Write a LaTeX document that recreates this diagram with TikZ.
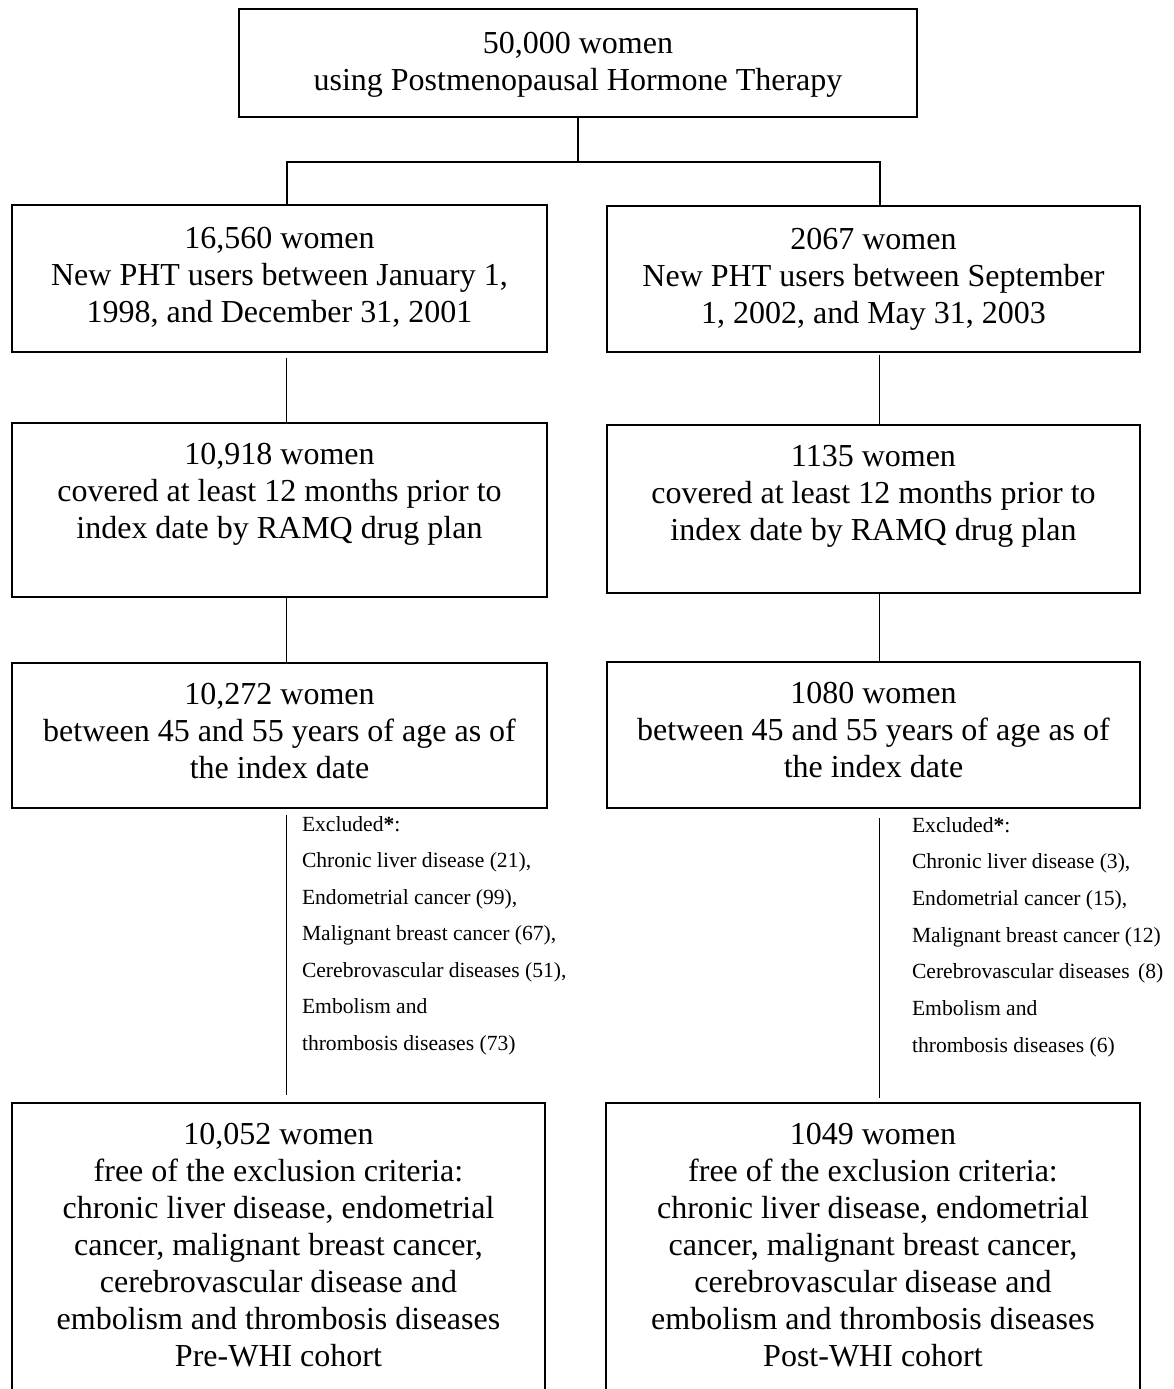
\documentclass[tikz,border=0pt]{standalone}
\usepackage{fontspec}
\setmainfont{Liberation Serif}
\usepackage{tikz}
\tikzstyle{stage}=[draw, rectangle, anchor=north, line width=1pt, inner sep=0pt, outer sep=0pt, font=\fontsize{16}{18.5}\selectfont]
\tikzstyle{link}=[line width=0.8pt]
\tikzstyle{note}=[anchor=north west, align=left, inner sep=0pt, outer sep=0pt]
\newcommand{\boxtext}[4][20.5pt]{\parbox[c][#3][t]{#2}{\centering\rule{0pt}{#1}#4}}

\begin{document}
\begin{tikzpicture}[x=0.5pt, y=-0.5pt]
      \useasboundingbox (0,0) rectangle (1174,1389);
      \clip (0,0) rectangle (1174,1389);
      %%%%%%%%%%%% all users
      \node(top) [stage] at (578, 9){\boxtext[22pt]{339pt}{54pt}{50,000 women\\using Postmenopausal Hormone Therapy}};
      \coordinate (fork) at (578, 162);
      %%%%%%%%%%%% Pre-WHI
      \node(l1) [stage] at (279.5, 205){\boxtext[21.5pt]{267.5pt}{73.5pt}{16,560 women\\New PHT users between January 1,\\1998, and December 31, 2001}};
      \node(l2) [stage] at (279.5, 423){\boxtext{267.5pt}{87pt}{10,918 women\\covered at least 12 months prior to\\index date by RAMQ drug plan}};
      \node(l3) [stage] at (279.5, 663){\boxtext{267.5pt}{72.5pt}{10,272 women\\between 45 and 55 years of age as of\\the index date}};
      \node(exl) [note, font=\fontsize{10.8}{18.25}\selectfont] at (302, 816){Excluded\textbf{*}:\\Chronic liver disease (21),\\Endometrial cancer (99),\\Malignant breast cancer (67),\\Cerebrovascular diseases (51),\\Embolism and\\thrombosis diseases (73)};
      \node(l4) [stage] at (278.5, 1103){\boxtext{266.5pt}{160pt}{10,052 women\\free of the exclusion criteria:\\chronic liver disease, endometrial\\cancer, malignant breast cancer,\\cerebrovascular disease and\\embolism and thrombosis diseases\\Pre-WHI cohort}};
      %%%%%%%%%%%% Post-WHI
      \node(r1) [stage] at (873.5, 206){\boxtext[21.5pt]{266.5pt}{73pt}{2067 women\\New PHT users between September\\1, 2002, and May 31, 2003}};
      \node(r2) [stage] at (873.5, 425){\boxtext{266.5pt}{84pt}{1135 women\\covered at least 12 months prior to\\index date by RAMQ drug plan}};
      \node(r3) [stage] at (873.5, 662){\boxtext{266.5pt}{73pt}{1080 women\\between 45 and 55 years of age as of\\the index date}};
      \node(exr) [note, font=\fontsize{10.8}{18.35}\selectfont] at (912, 817){Excluded\textbf{*}:\\Chronic liver disease (3),\\Endometrial cancer (15),\\Malignant breast cancer (12)\\Cerebrovascular diseases\hspace{1.5pt} (8)\\Embolism and\\thrombosis diseases (6)};
      \node(r4) [stage] at (873, 1103){\boxtext{267pt}{160pt}{1049 women\\free of the exclusion criteria:\\chronic liver disease, endometrial\\cancer, malignant breast cancer,\\cerebrovascular disease and\\embolism and thrombosis diseases\\Post-WHI cohort}};
      %%%%%%%%%%%% links
      \draw[link] (top) to (fork);
      \draw[link] ([xshift=3.75pt]l1.north) |- (fork) -| ([xshift=3.25pt]r1.north);
      \draw[link, shorten <=3pt] ([xshift=3.5pt]l1.south) to ([xshift=3.5pt]l2.north);
      \draw[link] ([xshift=3.5pt]l2.south) to ([xshift=3.5pt]l3.north);
      \draw[link, shorten <=3.5pt, shorten >=4pt] ([xshift=3.5pt]l3.south) to ([xshift=4pt]l4.north);
      \draw[link, shorten <=1.5pt] ([xshift=3pt]r1.south) to ([xshift=3pt]r2.north);
      \draw[link] ([xshift=3pt]r2.south) to ([xshift=3pt]r3.north);
      \draw[link, shorten <=5pt, shorten >=2.5pt] ([xshift=3pt]r3.south) to ([xshift=3.25pt]r4.north);
\end{tikzpicture}
\end{document}
